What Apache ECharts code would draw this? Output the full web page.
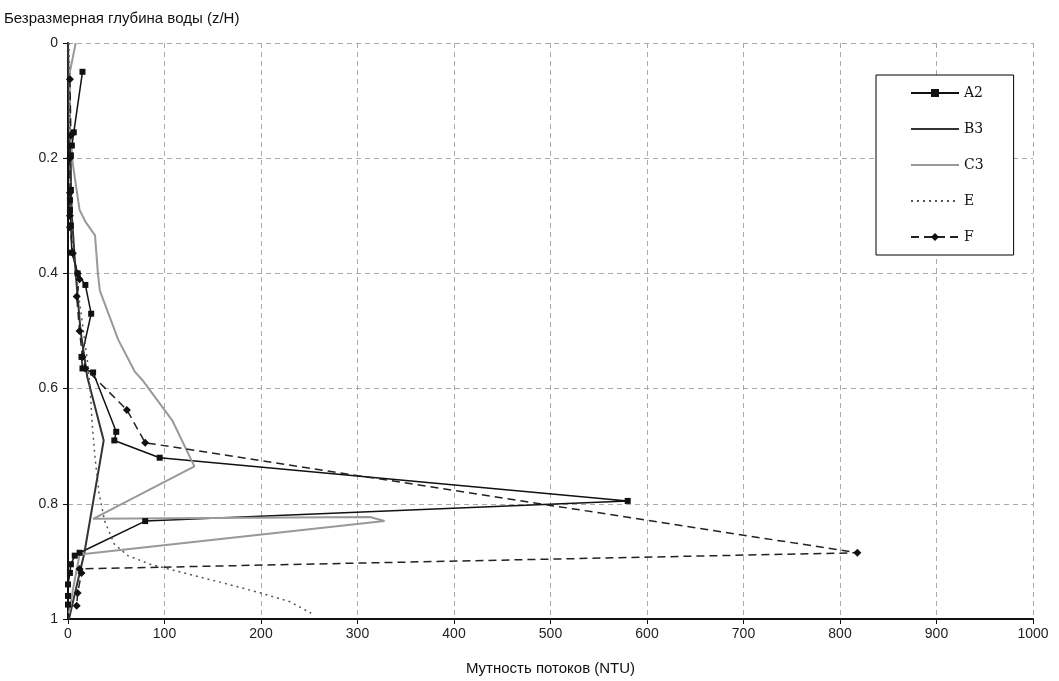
<!DOCTYPE html>
<html>
<head>
<meta charset="utf-8">
<script src="https://cdn.jsdelivr.net/npm/echarts@6/dist/echarts.min.js"></script>
<style>
  html, body { margin: 0; padding: 0; background: #fff; }
  #main { width: 1059px; height: 681px; }
</style>
</head>
<body>
<div id="main"></div>
<script>
// данные: [мутность NTU, глубина z/H]
let seriesA2 = [[15,0.05],[6,0.155],[4,0.178],[3,0.195],[3,0.255],[2,0.273],[2,0.29],[3,0.317],[4,0.364],[10,0.40],[18,0.42],[24,0.47],[14,0.545],[15,0.565],[26,0.572],[50,0.675],[48,0.69],[95,0.72],[580,0.795],[80,0.83],[12,0.885],[7,0.89],[3,0.905],[2,0.92],[0,0.94],[0,0.96],[0,0.975]];
let seriesB3 = [[0,0],[1,0.1],[2,0.2],[4,0.3],[8,0.4],[13,0.5],[20,0.58],[37,0.69],[17,0.885],[1,1]];
let seriesC3 = [[8,0],[2,0.05],[2,0.15],[5,0.21],[12,0.29],[18,0.31],[28,0.334],[31,0.40],[33,0.43],[52,0.515],[69,0.57],[77,0.585],[108,0.655],[131,0.735],[26,0.826],[313,0.823],[328,0.83],[12,0.888],[5,0.95],[1,0.99]];
let seriesE = [[1,0],[2,0.2],[5,0.35],[12,0.45],[20,0.55],[23,0.6],[25,0.66],[28,0.72],[32,0.78],[38,0.83],[48,0.87],[62,0.89],[85,0.905],[120,0.92],[160,0.937],[200,0.955],[230,0.97],[252,0.99]];
let seriesF = [[2,0.063],[3,0.16],[2,0.2],[2,0.26],[2,0.3],[2,0.32],[5,0.365],[10,0.40],[12,0.41],[9,0.44],[12,0.5],[15,0.545],[18,0.565],[61,0.637],[80,0.694],[818,0.885],[12,0.913],[14,0.92],[10,0.955],[9,0.977]];
let seriesNames = ['A2','B3','C3','E','F'];
let noMarker = ['B3','C3','E'];
let xTicks = {min: 0, max: 1000, interval: 100};
let yTicks = {min: 0, max: 1, interval: 0.2};

let myChart = echarts.init(document.getElementById('main'));
let axisFont = {fontFamily: 'Liberation Sans', fontSize: 14, color: '#222'};
let gridLine = {show: true, lineStyle: {color: '#aaa', type: [5, 4], width: 1}};

// в легенде у линий без маркеров прячем кружок
let legendData = seriesNames.map(function (n) {
    return noMarker.indexOf(n) > -1 ? {name: n, itemStyle: {opacity: 0}} : {name: n};
});

let option = {
    animation: false,
    backgroundColor: '#fff',
    title: {
        text: 'Безразмерная глубина воды (z/H)',
        left: 4, top: 11, padding: 0,
        textStyle: {fontFamily: 'Liberation Sans', fontSize: 15, fontWeight: 'normal', color: '#111'}
    },
    grid: {left: 68, right: 26, top: 43, bottom: 62, containLabel: false},
    legend: {
        data: legendData,
        orient: 'vertical',
        left: 876, top: 75,
        backgroundColor: '#fff',
        borderColor: '#000', borderWidth: 1,
        padding: [11, 30, 11, 34],
        itemWidth: 48, itemHeight: 10, itemGap: 22,
        textStyle: {fontFamily: 'DejaVu Serif', fontSize: 14, color: '#111'}
    },
    xAxis: {
        type: 'value', min: xTicks.min, max: xTicks.max, interval: xTicks.interval,
        name: 'Мутность потоков (NTU)', nameLocation: 'middle', nameGap: 42,
        nameTextStyle: {fontFamily: 'Liberation Sans', fontSize: 15, color: '#111'},
        axisLine: {show: true, onZero: false, lineStyle: {color: '#111', width: 2}},
        axisTick: {show: true, length: 5, lineStyle: {color: '#111'}},
        axisLabel: Object.assign({formatter: function (v) { return String(v); }}, axisFont),
        splitLine: gridLine
    },
    yAxis: {
        type: 'value', inverse: true, min: yTicks.min, max: yTicks.max, interval: yTicks.interval,
        axisLine: {show: true, onZero: false, lineStyle: {color: '#111', width: 2}},
        axisTick: {show: true, length: 5, lineStyle: {color: '#111'}},
        axisLabel: Object.assign({margin: 10}, axisFont),
        splitLine: gridLine
    },
    series: [
        {name: 'A2', type: 'line', data: seriesA2, symbol: 'rect', symbolSize: 6,
         itemStyle: {color: '#111'}, lineStyle: {color: '#111', width: 1.5}},
        {name: 'B3', type: 'line', data: seriesB3, symbol: 'none',
         itemStyle: {color: '#333'}, lineStyle: {color: '#333', width: 2}},
        {name: 'C3', type: 'line', data: seriesC3, symbol: 'none',
         itemStyle: {color: '#999'}, lineStyle: {color: '#999', width: 2}},
        {name: 'E', type: 'line', data: seriesE, symbol: 'none',
         itemStyle: {color: '#555'}, lineStyle: {color: '#555', width: 1.5, type: [2, 4]}},
        {name: 'F', type: 'line', data: seriesF, symbol: 'diamond', symbolSize: 8,
         itemStyle: {color: '#111'}, lineStyle: {color: '#222', width: 1.5, type: [8, 5]}}
    ]
};
myChart.setOption(option, true);
</script>
</body>
</html>
